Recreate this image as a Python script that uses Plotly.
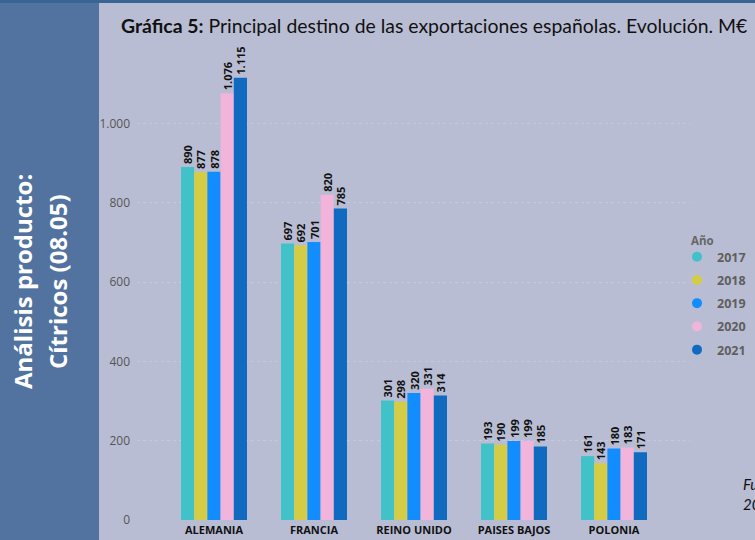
import plotly.graph_objects as go

paises = ["ALEMANIA", "FRANCIA", "REINO UNIDO", "PAISES BAJOS", "POLONIA"]
anios = ["2017", "2018", "2019", "2020", "2021"]
v2017 = [890, 697, 301, 193, 161]
v2018 = [877, 692, 298, 190, 143]
v2019 = [878, 701, 320, 199, 180]
v2020 = [1076, 820, 331, 199, 183]
v2021 = [1115, 785, 314, 185, 171]
series = [v2017, v2018, v2019, v2020, v2021]
colores = ["#40C2C8", "#D5CC46", "#118DFF", "#F2B4DA", "#106BC0"]

W, H = 755, 540
L, R, T, B = 137, 65, 44, 20
PW, PH = W - L - R, H - T - B


def px_x(p):
    return (p - L) / PW


def px_y(p):
    return (H - B - p) / PH


def fmt(v):
    return f"{v:,}".replace(",", ".")


fig = go.Figure()

for anio, vals, col in zip(anios, series, colores):
    fig.add_trace(go.Bar(
        x=paises, y=vals, name=anio,
        marker=dict(color=col, line=dict(width=0)),
        text=[fmt(v) for v in vals],
        textposition="outside", textangle=-90,
        constraintext="none", cliponaxis=False,
        textfont=dict(family="Open Sans", size=11, color="#111", weight="bold"),
        showlegend=False,
    ))
    # legend entry with round marker
    fig.add_trace(go.Scatter(
        x=[None], y=[None], mode="markers", name=anio,
        marker=dict(color=col, size=10, symbol="circle"),
        legendgroup=anio,
    ))

fig.update_layout(
    width=W, height=H,
    margin=dict(l=L, r=R, t=T, b=B, autoexpand=False),
    paper_bgcolor="#B9BDD3",
    plot_bgcolor="#B9BDD3",
    barmode="group", bargap=0.34, bargroupgap=0,
    separators=",.",
    font=dict(family="Open Sans", color="#444"),
    legend=dict(
        x=px_x(677), y=px_y(242), xanchor="left", yanchor="top",
        bgcolor="rgba(0,0,0,0)",
        font=dict(size=12.5, color="#605E5C", weight="bold"),
        tracegroupgap=4, itemwidth=30,
    ),
    xaxis=dict(
        range=[-0.77, 4.76], showgrid=False, zeroline=False, showline=False,
        tickfont=dict(family="Open Sans", size=11, color="#111", weight="bold"),
        ticklabelstandoff=2,
    ),
    yaxis=dict(
        range=[0, 1200], tickvals=[0, 200, 400, 600, 800, 1000],
        separatethousands=True,
        showgrid=True, gridcolor="#C6C9DB", griddash="dot", gridwidth=1,
        zeroline=False, showline=False,
        tickfont=dict(family="Open Sans", size=12, color="#555"),
        ticklabelstandoff=6,
    ),
    shapes=[
        dict(type="rect", xref="paper", yref="paper",
             x0=px_x(0), x1=px_x(99), y0=px_y(H), y1=px_y(0),
             fillcolor="#52739F", line=dict(width=0), layer="above"),
        dict(type="rect", xref="paper", yref="paper",
             x0=px_x(0), x1=px_x(W), y0=px_y(3), y1=px_y(0),
             fillcolor="#3A6494", line=dict(width=0), layer="above"),
    ],
    annotations=[
        dict(text="<b>Gráfica 5:</b> Principal destino de las exportaciones españolas. Evolución. M€",
             xref="paper", yref="paper", x=px_x(119), y=px_y(26),
             xanchor="left", yanchor="middle", showarrow=False,
             font=dict(family="Lato", size=19.4, color="#111")),
        dict(text="<b>Año</b>",
             xref="paper", yref="paper", x=px_x(689), y=px_y(240),
             xanchor="left", yanchor="middle", showarrow=False,
             font=dict(family="Open Sans", size=11.5, color="#666")),
        dict(text="<b>Análisis producto:</b>", textangle=-90,
             xref="paper", yref="paper", x=px_x(22), y=px_y(282),
             xanchor="center", yanchor="middle", showarrow=False,
             font=dict(family="Open Sans", size=24, color="white")),
        dict(text="<b>Cítricos (08.05)</b>", textangle=-90,
             xref="paper", yref="paper", x=px_x(57), y=px_y(282),
             xanchor="center", yanchor="middle", showarrow=False,
             font=dict(family="Open Sans", size=24, color="white")),
        dict(text="<i>Fuente: ICEX<br>2022</i>", align="left",
             xref="paper", yref="paper", x=px_x(741), y=px_y(494),
             xanchor="left", yanchor="middle", showarrow=False,
             font=dict(family="Lato", size=15, color="#111")),
    ],
)

fig.write_html("out.html", config={"displayModeBar": False},
               post_script="document.body.style.margin='0';")
